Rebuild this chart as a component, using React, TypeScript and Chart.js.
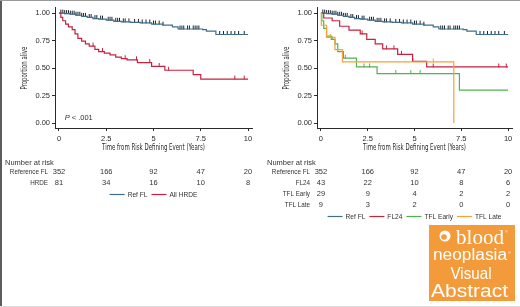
import React, { useEffect, useRef } from 'react';
import { Chart, registerables } from 'chart.js';
Chart.register(...registerables);

// ---------- data ----------
const xTickValues = [0, 2.5, 5, 7.5, 10];
const xTickLabels = ['0', '2.5', '5', '7.5', '10'];
const yTickValues = [0, 0.25, 0.5, 0.75, 1];

// Reference FL (both panels)
const refTimes = [0, 0.3, 0.6, 0.9, 1.2, 1.5, 1.8, 2.1, 2.5, 2.9, 3.3, 3.8, 4.3, 4.9, 5.5, 6.0, 6.3, 7.6, 7.8, 8.3];
const refSurv = [1.0, 0.995, 0.99, 0.98, 0.97, 0.96, 0.95, 0.945, 0.935, 0.925, 0.92, 0.915, 0.91, 0.9, 0.89, 0.875, 0.855, 0.85, 0.835, 0.805];
const refCensor = [0.1, 0.2, 0.3, 0.4, 0.5, 0.6, 0.7, 0.8, 0.9, 1.0, 1.1, 1.2, 1.3, 1.4, 1.6, 1.7, 1.9, 2.0, 2.2, 2.3, 2.6, 2.7, 2.8, 3.0, 3.1, 3.2, 3.4, 3.5, 3.7, 4.0, 4.2, 4.4, 4.6, 4.8, 5.0, 5.1, 5.3, 5.5, 6.4, 6.5, 6.6, 6.8, 6.9, 7.1, 7.2, 7.3, 7.4, 8.5, 8.7, 8.9, 9.1, 9.3, 9.5, 9.8];

// All HRDE (left panel)
const hrdeTimes = [0, 0.1, 0.2, 0.35, 0.5, 0.7, 0.85, 1.0, 1.2, 1.4, 1.6, 1.9, 2.1, 2.4, 2.7, 3.0, 3.3, 3.6, 4.15, 4.9, 5.6, 7.1, 7.5];
const hrdeSurv = [1.0, 0.96, 0.93, 0.9, 0.875, 0.85, 0.81, 0.77, 0.745, 0.72, 0.7, 0.67, 0.65, 0.635, 0.62, 0.6, 0.585, 0.575, 0.55, 0.515, 0.48, 0.44, 0.4];
const hrdeCensor = [1.8, 2.3, 3.5, 4.1, 4.8, 5.3, 5.8, 9.3, 9.8];

// FL24 (right panel)
const fl24Times = [0, 0.15, 0.6, 1.0, 1.5, 2.1, 2.45, 2.9, 3.3, 4.1, 4.9, 5.65];
const fl24Surv = [1.0, 0.955, 0.93, 0.88, 0.845, 0.81, 0.76, 0.72, 0.675, 0.625, 0.56, 0.51];
const fl24Censor = [2.2, 3.5, 3.9, 4.3, 4.9, 6.0, 9.5, 9.9];

// TFL Early (right panel)
const tflEarlyTimes = [0, 0.05, 0.15, 0.3, 0.55, 0.75, 0.9, 1.2, 1.9, 3.0, 7.4];
const tflEarlySurv = [1.0, 0.93, 0.86, 0.79, 0.76, 0.72, 0.65, 0.59, 0.51, 0.45, 0.3];
const tflEarlyCensor = [0.6, 1.3, 2.3, 2.6, 4.0, 4.8, 5.3];

// TFL Late (right panel)
const tflLateTimes = [0, 0.02, 0.3, 0.75, 1.15, 7.1];
const tflLateSurv = [1.0, 0.889, 0.778, 0.667, 0.556, 0.0];
const tflLateCensor = [0.5, 6.0];

// Number at risk
const leftRiskLabels = ['Reference FL', 'HRDE'];
const leftRiskRef = [352, 166, 92, 47, 20];
const leftRiskHrde = [81, 34, 16, 10, 8];
const rightRiskLabels = ['Reference FL', 'FL24', 'TFL Early', 'TFL Late'];
const rightRiskRef = [352, 166, 92, 47, 20];
const rightRiskFl24 = [43, 22, 10, 8, 6];
const rightRiskEarly = [29, 9, 4, 2, 2];
const rightRiskLate = [9, 3, 2, 0, 0];

const leftLegend = ['Ref FL', 'All HRDE'];
const rightLegend = ['Ref FL', 'FL24', 'TFL Early', 'TFL Late'];

// ---------- styling ----------
const BLUE = '#3f6e8c';
const RED = '#c5223f';
const GREEN = '#55b04f';
const ORANGE = '#f4a23a';
const INK = '#2a2a2a';
const SANS = '"Liberation Sans", Arial, sans-serif';
const NARROW = '"Liberation Sans Narrow", "DejaVu Sans Condensed", sans-serif';

type Series = { times: number[]; surv: number[]; censor: number[]; color: string; censorColor: string; end?: number };

function stepPoints(times: number[], surv: number[], end?: number) {
  const pts = times.map((t, i) => ({ x: t, y: surv[i] }));
  if (end !== undefined) pts.push({ x: end, y: surv[surv.length - 1] });
  return pts;
}
function survAt(times: number[], surv: number[], t: number) {
  let v = surv[0];
  for (let i = 0; i < times.length; i++) if (times[i] <= t) v = surv[i];
  return v;
}

// censor tick sitting on top of the curve
function tickImage(color: string) {
  const c = document.createElement('canvas');
  c.width = 3;
  c.height = 9;
  const g = c.getContext('2d')!;
  g.fillStyle = color;
  g.fillRect(1, 1, 1, 4);
  return c;
}

function fitText(ctx: CanvasRenderingContext2D, text: string, x: number, y: number, width: number) {
  const w = ctx.measureText(text).width;
  ctx.save();
  ctx.translate(x, y);
  ctx.scale(width / w, 1);
  ctx.textAlign = 'center';
  ctx.fillText(text, 0, 0);
  ctx.restore();
}
function squeezeText(ctx: CanvasRenderingContext2D, text: string, x: number, y: number, sx: number, align: CanvasTextAlign) {
  ctx.save();
  ctx.translate(x, y);
  ctx.scale(sx, 1);
  ctx.textAlign = align;
  ctx.fillText(text, 0, 0);
  ctx.restore();
}

function buildConfig(series: Series[], riskLabels: string[], risk: number[][], legend: string[], legendColors: string[], yAxisW: number, extra: 'p' | 'logo') {
  const datasets: any[] = [];
  series.forEach((s, i) => {
    datasets.push({
      type: 'line',
      data: stepPoints(s.times, s.surv, s.end),
      borderColor: s.color,
      borderWidth: 1.2,
      stepped: true,
      pointRadius: 0,
      fill: false,
      order: series.length - i,
    });
    datasets.push({
      type: 'scatter',
      data: s.censor.map((t) => ({ x: t, y: survAt(s.times, s.surv, t) })),
      showLine: false,
      pointStyle: tickImage(s.censorColor),
      pointRadius: 3,
      order: series.length - i,
    });
  });

  const plugin = {
    id: 'kmAnnot',
    afterDraw(chart: any) {
      const ctx: CanvasRenderingContext2D = chart.ctx;
      const xs = chart.scales.x;
      const ys = chart.scales.y;
      ctx.save();
      ctx.fillStyle = INK;
      ctx.textBaseline = 'middle';
      // y title
      ctx.font = `9px ${NARROW}`;
      ctx.save();
      ctx.translate(yAxisW - 30, (ys.getPixelForValue(0) + ys.getPixelForValue(1)) / 2);
      ctx.rotate(-Math.PI / 2);
      fitText(ctx, 'Proportion alive', 0, 0, 43);
      ctx.restore();
      // x title
      const cx = (xs.getPixelForValue(0) + xs.getPixelForValue(10)) / 2;
      ctx.font = `9.5px ${NARROW}`;
      fitText(ctx, 'Time from Risk Defining Event (Years)', cx, 148, 103);

      // number at risk
      ctx.font = `7.5px ${SANS}`;
      ctx.fillStyle = '#333';
      ctx.textAlign = 'left';
      ctx.fillText('Number at risk', yAxisW - 50, 163);
      riskLabels.forEach((lab, r) => {
        const y = 172 + r * 11;
        squeezeText(ctx, lab, yAxisW - 7, y, 0.84, 'right');
        ctx.textAlign = 'center';
        risk[r].forEach((v, k) => ctx.fillText(String(v), xs.getPixelForValue(xTickValues[k]), y));
      });

      // legend
      const ly = 172 + riskLabels.length * 11 + 0.5;
      const lineW = 15, gap1 = 3, gap2 = 4, sx = 0.88;
      const widths = legend.map((t) => ctx.measureText(t).width * sx);
      const total = widths.reduce((a, w) => a + lineW + gap1 + w, 0) + gap2 * (legend.length - 1);
      let lx = cx - total / 2;
      legend.forEach((t, i) => {
        ctx.strokeStyle = legendColors[i];
        ctx.lineWidth = 1.2;
        ctx.beginPath();
        ctx.moveTo(lx, ly);
        ctx.lineTo(lx + lineW, ly);
        ctx.stroke();
        lx += lineW + gap1;
        squeezeText(ctx, t, lx, ly, sx, 'left');
        lx += widths[i] + gap2;
      });

      if (extra === 'p') {
        ctx.textAlign = 'left';
        ctx.font = `italic 7.5px ${SANS}`;
        ctx.fillText('P', xs.getPixelForValue(0.3), ys.getPixelForValue(0.05));
        const pw = ctx.measureText('P').width;
        ctx.font = `7.5px ${SANS}`;
        ctx.fillText(' < .001', xs.getPixelForValue(0.3) + pw, ys.getPixelForValue(0.05));
      } else {
        // visual abstract badge
        const bx = 169, by = 225, bw = 86, bh = 76;
        ctx.fillStyle = '#f39b3a';
        ctx.fillRect(bx, by, bw, bh);
        ctx.fillStyle = '#ffffff';
        ctx.textBaseline = 'alphabetic';
        ctx.beginPath();
        ctx.arc(185, 236, 5.5, 0, Math.PI * 2);
        ctx.fill();
        ctx.fillStyle = '#f39b3a';
        ctx.beginPath();
        ctx.arc(184, 237, 2.8, 0, Math.PI * 2);
        ctx.fill();
        ctx.fillStyle = '#ffffff';
        ctx.font = `20px "Liberation Serif", serif`;
        ctx.save();
        const bw1 = ctx.measureText('blood').width;
        ctx.translate(196, 244);
        ctx.scale(48 / bw1, 1);
        ctx.textAlign = 'left';
        ctx.fillText('blood', 0, 0);
        ctx.restore();
        ctx.font = `4px ${SANS}`;
        ctx.textAlign = 'left';
        ctx.fillText('®', 245, 233);
        ctx.fillText('®', 248, 254);
        ctx.font = `16px ${SANS}`;
        fitText(ctx, 'neoplasia', 210, 260, 74);
        ctx.font = `16.5px ${SANS}`;
        fitText(ctx, 'Visual', 211, 279, 41);
        ctx.font = `17.5px ${SANS}`;
        fitText(ctx, 'Abstract', 209.5, 297, 77);
      }
      ctx.restore();
    },
  };

  return {
    type: 'line',
    data: { datasets },
    options: {
      responsive: false,
      animation: false,
      events: [],
      layout: { padding: { top: 7, right: 8, left: 0, bottom: 0 } },
      plugins: { legend: { display: false }, tooltip: { enabled: false } },
      scales: {
        x: {
          type: 'linear',
          min: -0.21,
          max: 10.21,
          afterFit: (s: any) => { s.height = 179; },
          afterBuildTicks: (s: any) => { s.ticks = xTickValues.map((v) => ({ value: v })); },
          ticks: {
            callback: (v: number) => xTickLabels[xTickValues.indexOf(v)] ?? '',
            font: { size: 7.5, family: SANS },
            color: INK,
            padding: 3,
            maxRotation: 0,
            autoSkip: false,
          },
          grid: { display: true, drawOnChartArea: false, drawTicks: true, tickLength: 3, color: INK },
          border: { display: true, color: INK, width: 1 },
        },
        y: {
          type: 'linear',
          min: -0.045,
          max: 1.055,
          afterFit: (s: any) => { s.width = yAxisW; },
          afterBuildTicks: (s: any) => { s.ticks = yTickValues.map((v) => ({ value: v })); },
          ticks: {
            callback: (v: number) => v.toFixed(2),
            font: { size: 7.5, family: SANS },
            color: INK,
            padding: 2,
            autoSkip: false,
          },
          grid: { display: true, drawOnChartArea: false, drawTicks: true, tickLength: 3, color: INK },
          border: { display: true, color: INK, width: 1 },
        },
      },
    },
    plugins: [plugin],
  } as any;
}

const refSeries: Series = { times: refTimes, surv: refSurv, censor: refCensor, color: BLUE, censorColor: '#1b2530', end: 10 };

export default function App() {
  const leftRef = useRef<HTMLCanvasElement>(null);
  const rightRef = useRef<HTMLCanvasElement>(null);

  useEffect(() => {
    document.body.style.margin = '0';
    const left = new Chart(
      leftRef.current!,
      buildConfig(
        [refSeries, { times: hrdeTimes, surv: hrdeSurv, censor: hrdeCensor, color: RED, censorColor: RED, end: 10 }],
        leftRiskLabels,
        [leftRiskRef, leftRiskHrde],
        leftLegend,
        [BLUE, RED],
        55,
        'p'
      )
    );
    const right = new Chart(
      rightRef.current!,
      buildConfig(
        [
          refSeries,
          { times: fl24Times, surv: fl24Surv, censor: fl24Censor, color: RED, censorColor: RED, end: 10 },
          { times: tflEarlyTimes, surv: tflEarlySurv, censor: tflEarlyCensor, color: GREEN, censorColor: GREEN, end: 10 },
          { times: tflLateTimes, surv: tflLateSurv, censor: tflLateCensor, color: ORANGE, censorColor: ORANGE },
        ],
        rightRiskLabels,
        [rightRiskRef, rightRiskFl24, rightRiskEarly, rightRiskLate],
        rightLegend,
        [BLUE, RED, GREEN, ORANGE],
        57,
        'logo'
      )
    );
    return () => {
      left.destroy();
      right.destroy();
    };
  }, []);

  return (
    <div style={{ position: 'relative', width: 520, height: 307, overflow: 'hidden', background: '#fff' }}>
      <canvas ref={leftRef} width={260} height={307} style={{ position: 'absolute', left: 0, top: 0 }} />
      <canvas ref={rightRef} width={260} height={307} style={{ position: 'absolute', left: 260, top: 0 }} />
      <div style={{ position: 'absolute', left: 0, top: 0, width: 2, height: 307, background: '#5c5c5c' }} />
      <div style={{ position: 'absolute', left: 0, top: 0, width: 520, height: 1, background: '#9a9a9a' }} />
      <div style={{ position: 'absolute', left: 0, top: 306, width: 520, height: 1, background: '#dcdcdc' }} />
    </div>
  );
}
